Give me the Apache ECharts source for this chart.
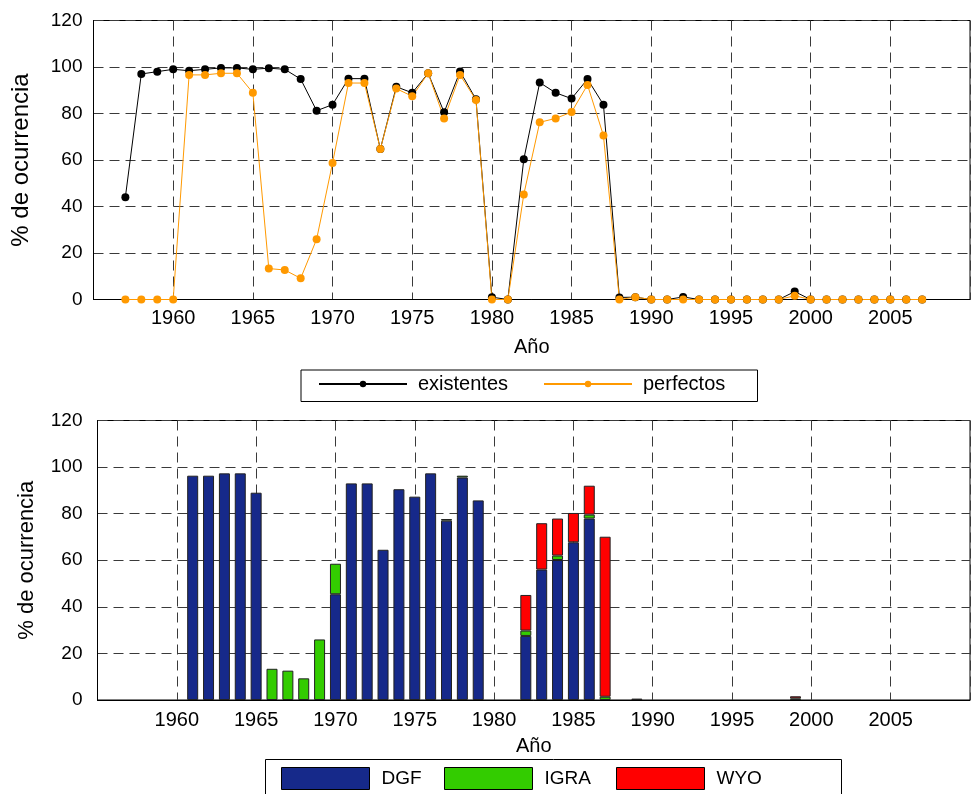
<!DOCTYPE html>
<html>
<head>
    <meta charset="utf-8" />
    <title>Ocurrencia</title>
    <script src="https://cdn.jsdelivr.net/npm/echarts@6/dist/echarts.min.js"></script>
    <style type="text/css">
        body { margin: 0; padding: 0; background: #fff; overflow: hidden; }
        #main { width: 973px; height: 794px; }
    </style>
</head>
<body>
    <div id="main"></div>
    <script type="text/javascript">
        // años 1957 - 2007
        var years = [];
        for (var y = 1957; y <= 2007; y++) years.push(y);
        // categorías del eje de barras: 1955 - 2010 (coinciden con el eje de valores)
        var barCats = [];
        for (var c = 1955; c <= 2010; c++) barCats.push(String(c));

        // panel superior
        var existentes = [44, 97, 98, 99, 98.4, 99, 99.6, 99.6, 99, 99.5,
            99, 94.8, 81.2, 83.8, 95, 95, 64.7, 91.5, 88.9, 97.3,
            80.5, 98.1, 86.1, 1, 0, 60.3, 93.3, 88.9, 86.4, 94.8,
            83.8, 0.9, 1, 0, 0, 1.1, 0, 0, 0, 0,
            0, 0, 3.4, 0, 0, 0, 0, 0, 0, 0, 0];
        var perfectos = [0, 0, 0, 0, 96.6, 96.6, 97.3, 97.3, 88.9, 13.3,
            12.7, 9.1, 25.9, 58.7, 93.1, 93.1, 64.7, 90.7, 87.4, 97.3,
            77.9, 96.6, 85.8, 0, 0, 45.2, 76.2, 77.9, 80.6, 92.3,
            70.5, 0, 1, 0, 0, 0, 0, 0, 0, 0,
            0, 0, 1.6, 0, 0, 0, 0, 0, 0, 0, 0];

        // panel inferior (barras apiladas), null = sin barra
        var dgf = [null, null, null, null, 96.3, 96.3, 97.3, 97.3, 89, null,
            null, null, null, 45.4, 93, 93, 64.5, 90.5, 87.3, 97.3,
            77, 95.5, 85.7, null, null, 27.5, 56, 60.1, 67.7, 77.9,
            null, null, null, null, null, null, null, null, null, null,
            null, null, null, null, null, null, null, null, null, null, null];
        var igra = [null, null, null, null, null, null, null, null, null, 13.4,
            12.6, 9.3, 26, 13.1, null, null, null, null, null, null,
            0.7, 0.8, null, null, null, 2.3, null, 1.9, null, 1.7,
            1.4, null, null, null, null, null, null, null, null, null,
            null, null, 0.7, null, null, null, null, null, null, null, null];
        var wyo = [null, null, null, null, null, null, null, null, null, null,
            null, null, null, null, null, null, null, null, null, null,
            null, null, null, null, null, 15.3, 19.9, 15.9, 12.6, 12.4,
            68.7, null, 0.6, null, null, null, null, null, null, null,
            null, null, 0.9, null, null, null, null, null, null, null, null];

        function pairs(arr) {
            return years.map(function (yr, i) { return [yr, arr[i]]; });
        }
        // valores por categoría (1955-2010) para las barras
        function byCat(arr) {
            return barCats.map(function (cat) {
                var i = years.indexOf(Number(cat));
                return i < 0 ? null : arr[i];
            });
        }

        var FONT = "'Liberation Sans', Arial, sans-serif";
        var gridLine = { show: true, lineStyle: { color: '#3a3a3a', width: 1, type: [10, 6] } };

        function xAxisCfg(gridIndex, margin, nameGap) {
            return {
                type: 'value', gridIndex: gridIndex, min: 1955, max: 2010, interval: 5,
                name: 'Año', nameLocation: 'middle', nameGap: nameGap,
                nameTextStyle: { fontFamily: FONT, fontSize: 20, color: '#000' },
                axisLine: { show: true, lineStyle: { color: '#000', width: 1 } },
                axisTick: { show: false },
                axisLabel: {
                    margin: margin, fontFamily: FONT, fontSize: 20, color: '#000',
                    formatter: function (v) { return (v === 1955 || v === 2010) ? '' : String(v); }
                },
                splitLine: gridLine
            };
        }
        function yAxisCfg(gridIndex, margin, nameSize, nameGap) {
            return {
                type: 'value', gridIndex: gridIndex, min: 0, max: 120, interval: 20,
                name: '% de ocurrencia', nameLocation: 'middle', nameGap: nameGap,
                nameTextStyle: { fontFamily: FONT, fontSize: nameSize, color: '#000' },
                axisLine: { show: true, lineStyle: { color: '#000', width: 1 } },
                axisTick: { show: false },
                axisLabel: { margin: margin, fontFamily: FONT, fontSize: 19, color: '#000' },
                splitLine: gridLine
            };
        }
        function barLegend(name, left) {
            return {
                data: [name], left: left, top: 767, padding: 0, itemWidth: 88, itemHeight: 22,
                icon: 'rect', itemStyle: { borderColor: '#000', borderWidth: 1 },
                textStyle: { fontFamily: FONT, fontSize: 19, color: '#000', padding: [0, 0, 0, 7] }
            };
        }
        var barStyle = { borderColor: '#222', borderWidth: 1 };

        var chart = echarts.init(document.getElementById('main'), null, { renderer: 'canvas' });
        chart.setOption({
            animation: false,
            backgroundColor: '#fff',
            grid: [
                { left: 93.5, top: 20.5, width: 882, height: 279, show: true, borderColor: '#000', borderWidth: 1 },
                { left: 97.5, top: 420.5, width: 884, height: 279.5, show: true, borderColor: '#000', borderWidth: 1 }
            ],
            xAxis: [
                xAxisCfg(0, 9, 38),
                xAxisCfg(1, 10, 36),
                {
                    type: 'category', gridIndex: 1, data: barCats, boundaryGap: false,
                    show: false, axisLine: { show: false }, splitLine: { show: false }
                }
            ],
            yAxis: [yAxisCfg(0, 11, 24, 60), yAxisCfg(1, 15, 22, 60)],
            legend: [
                { data: ['existentes'], left: 318, top: 374, padding: 0, itemWidth: 88, itemHeight: 8,
                  textStyle: { fontFamily: FONT, fontSize: 20, color: '#000', padding: [0, 0, 0, 6] } },
                { data: ['perfectos'], left: 543, top: 374, padding: 0, itemWidth: 88, itemHeight: 8,
                  textStyle: { fontFamily: FONT, fontSize: 20, color: '#000', padding: [0, 0, 0, 6] } },
                barLegend('DGF', 281),
                barLegend('IGRA', 444),
                barLegend('WYO', 616)
            ],
            graphic: [
                { type: 'rect', shape: { x: 301, y: 370, width: 456.5, height: 31.5 },
                  style: { fill: 'none', stroke: '#000', lineWidth: 1 } },
                { type: 'rect', shape: { x: 265.5, y: 759.5, width: 576, height: 40 },
                  style: { fill: 'none', stroke: '#000', lineWidth: 1 } }
            ],
            series: [
                {
                    name: 'existentes', type: 'line', xAxisIndex: 0, yAxisIndex: 0,
                    data: pairs(existentes), symbol: 'circle', symbolSize: 8,
                    lineStyle: { color: '#000', width: 1 }, itemStyle: { color: '#000' }
                },
                {
                    name: 'perfectos', type: 'line', xAxisIndex: 0, yAxisIndex: 0,
                    data: pairs(perfectos), symbol: 'circle', symbolSize: 8,
                    lineStyle: { color: '#ff9900', width: 1 }, itemStyle: { color: '#ff9900' }
                },
                {
                    name: 'DGF', type: 'bar', stack: 'fuente', xAxisIndex: 2, yAxisIndex: 1,
                    data: byCat(dgf), barWidth: 11,
                    itemStyle: Object.assign({ color: '#16298a' }, barStyle)
                },
                {
                    name: 'IGRA', type: 'bar', stack: 'fuente', xAxisIndex: 2, yAxisIndex: 1,
                    data: byCat(igra), barWidth: 11,
                    itemStyle: Object.assign({ color: '#33cc00' }, barStyle)
                },
                {
                    name: 'WYO', type: 'bar', stack: 'fuente', xAxisIndex: 2, yAxisIndex: 1,
                    data: byCat(wyo), barWidth: 11,
                    itemStyle: Object.assign({ color: '#ff0000' }, barStyle)
                }
            ]
        });
    </script>
</body>
</html>
